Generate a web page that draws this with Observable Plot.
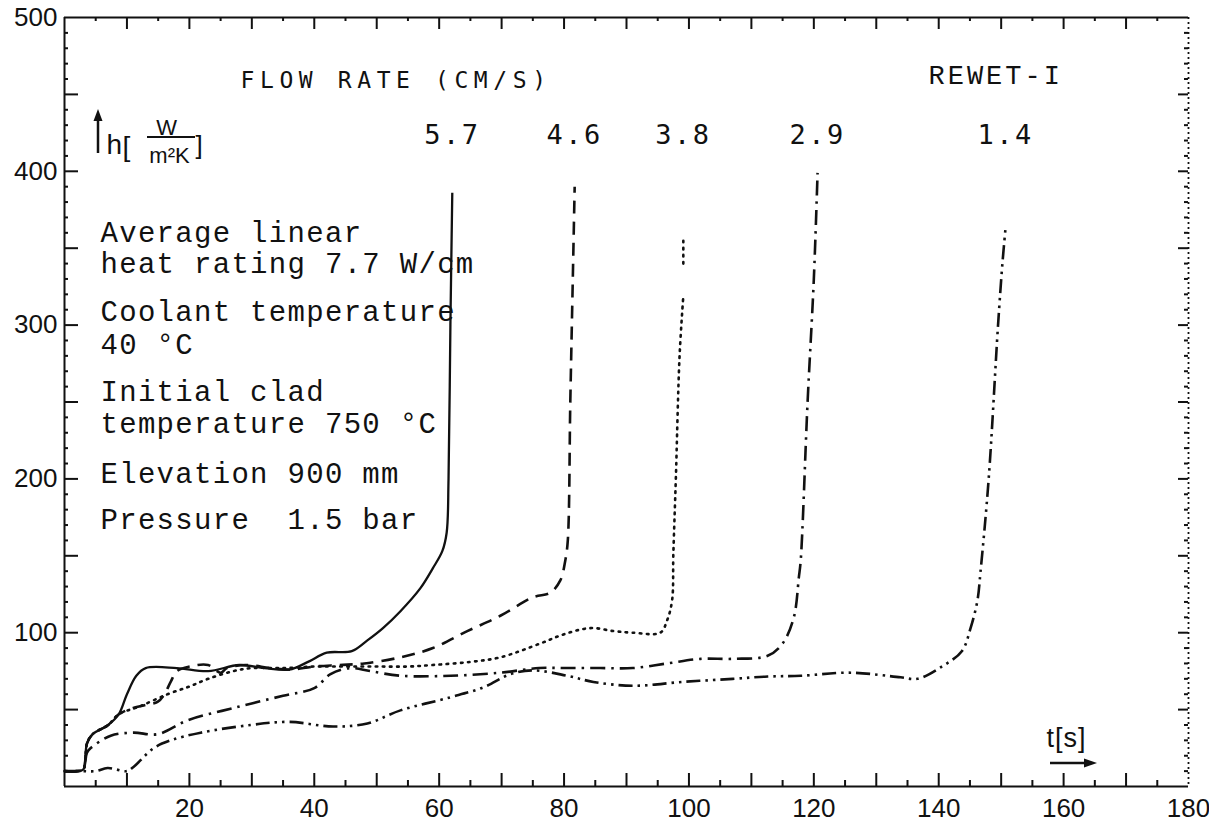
<!DOCTYPE html>
<html><head><meta charset="utf-8">
<script src="https://cdn.jsdelivr.net/npm/d3@7"></script>
<script src="https://cdn.jsdelivr.net/npm/@observablehq/plot@0.6"></script>
<style>html,body{margin:0;padding:0;background:#fff;} #chart svg{display:block;}</style>
</head><body><div id="chart"></div>
<script>
// ---- data (t [s], h [W/m2K]) ----
const flowRates = ["5.7", "4.6", "3.8", "2.9", "1.4"];
const s57 = [[0,10],[2,10],[3,11],[3.6,28],[4.5,34],[7,40],[8.7,47],[10,60],[11.5,72],[13,77],[18,77],[23,75],[28,79],[32,77],[36,76],[39,81],[42,87],[46,88],[48.5,95],[51,103],[53.8,114],[57,129],[59,142],[60.5,153],[61.2,165],[61.5,200],[61.8,300],[62.1,386]];
const s46 = [[0,10],[2,10],[3,11],[3.6,28],[4.5,34],[7,40],[8.7,47],[11,51],[13,53],[14.9,55],[16,60],[17,68],[18,75],[20,78],[23,79],[25,74],[26,77],[29,79],[33,77],[36,76],[40,78],[44,79],[48,80],[53.8,84],[59,90],[64.5,101],[69.8,111],[75,123],[77.8,126],[79.4,134],[80.2,147],[80.6,160],[81,250],[81.4,330],[81.7,390]];
const s38 = [[0,10],[2,10],[3,11],[3.6,28],[4.5,34],[7,40],[8.7,47],[12,52],[16.5,60],[20,65],[23,70],[27,75],[30,77],[35,77],[40,78],[45,78],[50,78],[55,78],[59,79],[65,81],[69.8,84],[76.2,93],[80,99],[84.2,103],[88,101],[91,100],[95.4,100],[96.5,108],[97.3,121],[97.5,151],[97.9,200],[98.5,280],[99.1,319],[99.1,NaN],[99.1,340],[99.1,356]];
const s29 = [[0,10],[2,10],[3,11],[3.6,22],[4.2,25],[7.4,33],[11,35],[14.9,34],[19.7,43],[27,51],[35,59],[40,64],[42.6,73],[45.8,77],[49,75],[53.8,72],[61.8,72],[69.8,74],[76,77],[80.5,77],[85.8,77],[91,77],[96.5,80],[101.9,83],[107,83],[112.6,85],[115,93],[116.8,110],[117.6,136],[117.9,147],[119,250],[120,330],[120.6,399]];
const s14 = [[0,10],[3,10],[5,10],[6.9,12],[10,10],[11,12.5],[14.3,25],[17,30],[21.8,35],[29.8,40],[36,42],[43,39],[48.5,41],[53.8,49.5],[61.8,58],[67.1,64.5],[71.4,73],[75,75.5],[80.5,72],[84.7,68],[91,65.5],[99,68],[107,70],[112.6,71.5],[117.9,72],[125.9,74],[133.9,71],[136.6,70],[140.3,77.5],[143.7,88],[145.1,103],[146.2,121],[146.7,140],[148,200],[149.5,300],[150.2,340],[150.7,363]];
const xTickLabels = [20, 40, 60, 80, 100, 120, 140, 160, 180];
const yTickLabels = [100, 200, 300, 400, 500];
const headerText = "FLOW RATE (CM/S)";
const seriesName = "REWET-I";
const notes = ["Average linear", "heat rating 7.7 W/cm", "Coolant temperature", "40 °C", "Initial clad", "temperature 750 °C", "Elevation 900 mm", "Pressure  1.5 bar"];

// ---- layout / style ----
const W = 1209, H = 827, mL = 64, mR = 21, mT = 17, mB = 41;
const fW = W - mL - mR, fH = H - mT - mB;
const noteBaselines = [241, 272, 320, 353, 400, 432, 482, 528];
const series = [s57, s46, s38, s29, s14];
const dashes = [null, "13,8", "1.6,5.5", "15,6,2.5,6", "14,5,2.5,5,2.5,5"];
const ink = "#111";
const x10 = d3.range(10, 180, 10), x5 = d3.range(5, 180, 10);
const y50 = d3.range(50, 500, 50), y10 = d3.range(10, 500, 10).filter(v => v % 50);

const marks = [
  // frame
  Plot.ruleX([0], {stroke: ink, strokeWidth: 2}),
  Plot.ruleY([0], {stroke: ink, strokeWidth: 2}),
  Plot.ruleY([500], {stroke: ink, strokeWidth: 1.8}),
  Plot.ruleX([180], {stroke: ink, strokeWidth: 1.8, strokeDasharray: "2,3"}),
  // inside ticks
  Plot.tickX(x10, {x: d => d, insetTop: fH - 13, stroke: ink, strokeWidth: 2}),
  Plot.tickX(x5, {x: d => d, insetTop: fH - 6, stroke: ink, strokeWidth: 2}),
  Plot.tickX(x10, {x: d => d, insetBottom: fH - 12, stroke: ink, strokeWidth: 2}),
  Plot.tickX(x5, {x: d => d, insetBottom: fH - 4, stroke: ink, strokeWidth: 2}),
  Plot.tickY(y50, {y: d => d, insetRight: fW - 14, stroke: ink, strokeWidth: 2}),
  Plot.tickY(y10, {y: d => d, insetRight: fW - 4, stroke: ink, strokeWidth: 2}),
  Plot.tickY(y50, {y: d => d, insetLeft: fW - 10, stroke: ink, strokeWidth: 2}),
  Plot.tickY(y10, {y: d => d, insetLeft: fW - 4, stroke: ink, strokeWidth: 2}),
  // curves
  ...series.map((s, i) => Plot.line(s, {
    x: d => d[0], y: d => d[1], curve: "catmull-rom", stroke: ink,
    strokeWidth: i === 0 ? 2.3 : 2.6, strokeDasharray: dashes[i],
    strokeLinecap: i === 2 ? "round" : "butt"
  })),
  // flow-rate labels above each rewet front
  Plot.text(series.map((s, i) => ({t: s[s.length - 1][0], label: flowRates[i]})), {
    x: "t", text: "label", frameAnchor: "top", dy: 126, lineAnchor: "bottom",
    fontFamily: "DejaVu Sans Mono", fontSize: 27, fill: ink, ariaDescription: "rates"
  }),
  Plot.text([headerText], {text: d => d, frameAnchor: "top-left", dx: 240 - mL, dy: 87 - mT, lineAnchor: "bottom", textAnchor: "start", fontFamily: "DejaVu Sans Mono", fontSize: 23, fill: ink, ariaDescription: "header"}),
  Plot.text([seriesName], {text: d => d, frameAnchor: "top-left", dx: 928 - mL, dy: 83 - mT, lineAnchor: "bottom", textAnchor: "start", fontFamily: "Liberation Mono", fontSize: 27, fill: ink, ariaDescription: "series"}),
  ...notes.map((n, i) => Plot.text([n], {text: d => d, frameAnchor: "top-left", dx: 100 - mL, dy: noteBaselines[i] - mT, lineAnchor: "bottom", textAnchor: "start", fontFamily: "Liberation Mono", fontSize: 29, fill: ink, ariaDescription: "notes"})),
  // y label h[W/m2K]
  Plot.text(["h"], {text: d => d, frameAnchor: "top-left", dx: 106 - mL, dy: 153 - mT, lineAnchor: "bottom", textAnchor: "start", fontFamily: "Liberation Sans", fontSize: 28, fill: ink}),
  Plot.text(["["], {text: d => d, frameAnchor: "top-left", dx: 122 - mL, dy: 155 - mT, lineAnchor: "bottom", textAnchor: "start", fontFamily: "Liberation Sans", fontSize: 28, fill: ink}),
  Plot.text(["W"], {text: d => d, frameAnchor: "top-left", dx: 166 - mL, dy: 134 - mT, lineAnchor: "bottom", textAnchor: "middle", fontFamily: "Liberation Sans", fontSize: 22, fill: ink}),
  Plot.text(["m²K"], {text: d => d, frameAnchor: "top-left", dx: 169 - mL, dy: 162 - mT, lineAnchor: "bottom", textAnchor: "middle", fontFamily: "Liberation Sans", fontSize: 22, fill: ink}),
  Plot.text(["]"], {text: d => d, frameAnchor: "top-left", dx: 195 - mL, dy: 153 - mT, lineAnchor: "bottom", textAnchor: "start", fontFamily: "Liberation Sans", fontSize: 26, fill: ink}),
  // x label t[s]
  Plot.text(["t[s]"], {text: d => d, frameAnchor: "top-left", dx: 1046 - mL, dy: 746 - mT, lineAnchor: "bottom", textAnchor: "start", fontFamily: "Liberation Sans", fontSize: 27, fill: ink, ariaDescription: "tlabel"})
];

const chart = Plot.plot({
  width: W, height: H,
  marginLeft: mL, marginRight: mR, marginTop: mT, marginBottom: mB,
  x: {domain: [0, 180], ticks: xTickLabels, tickSize: 0, tickPadding: 12, label: null, tickFormat: d => String(d)},
  y: {domain: [0, 500], ticks: yTickLabels, tickSize: 0, tickPadding: 7, label: null, tickFormat: d => String(d)},
  style: {fontFamily: "Liberation Sans", fontSize: "26px", background: "white", color: ink},
  marks
});
document.getElementById("chart").appendChild(chart);

// typewriter letter spacing
const svg = d3.select(chart);
const spacing = {header: 5.6, rates: 2.5, series: 3, notes: 1.3, tlabel: 1};
for (const [k, v] of Object.entries(spacing)) {
  svg.selectAll(`[aria-description="${k}"]`).attr("letter-spacing", v).selectAll("text").attr("letter-spacing", v);
}

// annotation arrows & fraction bar
const ann = svg.append("g").attr("stroke", ink).attr("fill", ink);
ann.append("line").attr("x1", 98).attr("x2", 98).attr("y1", 153).attr("y2", 116).attr("stroke-width", 2.5);
ann.append("path").attr("d", "M98,109 L93.5,121 L102.5,121 Z").attr("stroke", "none");
ann.append("line").attr("x1", 147).attr("x2", 195).attr("y1", 137).attr("y2", 137).attr("stroke-width", 2);
ann.append("line").attr("x1", 1050).attr("x2", 1086).attr("y1", 763).attr("y2", 763).attr("stroke-width", 2.5);
ann.append("path").attr("d", "M1097,763 L1084,758.5 L1084,767.5 Z").attr("stroke", "none");
</script>
</body></html>
